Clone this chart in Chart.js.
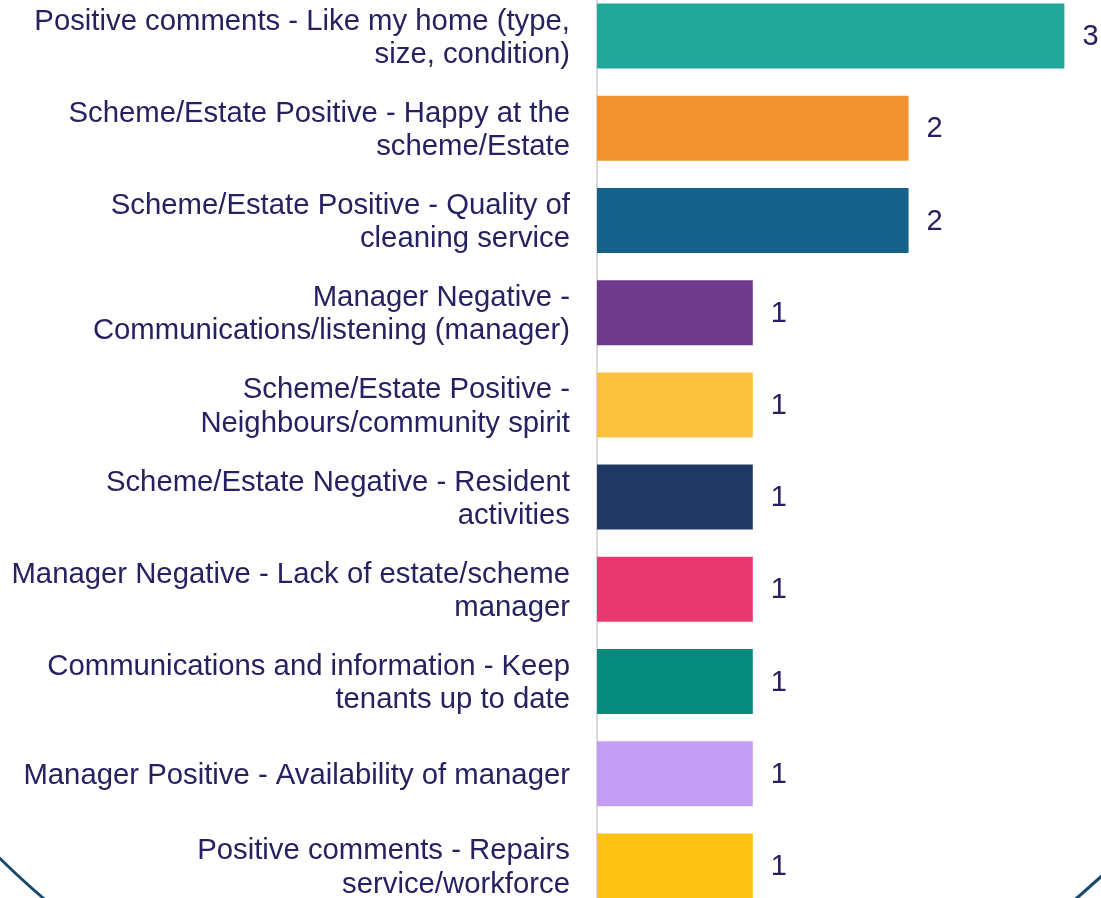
<!DOCTYPE html>
<html>
<head>
<meta charset="utf-8">
<script src="https://cdn.jsdelivr.net/npm/chart.js@4"></script>
<style>
  html, body { margin: 0; padding: 0; background: #fff; overflow: hidden; }
  body { width: 1101px; height: 898px; position: relative; }
  #wrap { position: absolute; left: 0; top: -10px; width: 1101px; height: 922px; }
</style>
</head>
<body>
<div id="wrap"><canvas id="myChart"></canvas></div>
<script>
// chart data
const CATEGORIES = [
  ["Positive comments - Like my home (type,", "size, condition)"],
  ["Scheme/Estate Positive - Happy at the", "scheme/Estate"],
  ["Scheme/Estate Positive - Quality of", "cleaning service"],
  ["Manager Negative -", "Communications/listening (manager)"],
  ["Scheme/Estate Positive -", "Neighbours/community spirit"],
  ["Scheme/Estate Negative - Resident", "activities"],
  ["Manager Negative - Lack of estate/scheme", "manager"],
  ["Communications and information - Keep", "tenants up to date"],
  ["Manager Positive - Availability of manager"],
  ["Positive comments - Repairs", "service/workforce"],
];
const COUNTS = [3, 2, 2, 1, 1, 1, 1, 1, 1, 1];
const BAR_COLORS = [
  "#22a89a", "#f2922e", "#15638b", "#6f3a8c", "#fdc140",
  "#203864", "#e83870", "#068b7c", "#c49ef4", "#fdc314",
];

// constants
const TEXT_COLOR = "#262161";
const FONT_FAMILY = "'Liberation Sans', Arial, sans-serif";

// value labels to the right of each bar
const valueLabels = {
  id: 'valueLabels',
  afterDatasetsDraw(chart) {
    const ctx = chart.ctx;
    const meta = chart.getDatasetMeta(0);
    ctx.save();
    ctx.fillStyle = TEXT_COLOR;
    ctx.font = "29px " + FONT_FAMILY;
    ctx.textAlign = 'left';
    ctx.textBaseline = 'middle';
    meta.data.forEach((bar, i) => {
      ctx.fillText(String(COUNTS[i]), bar.x + 18, bar.y + 1);
    });
    ctx.restore();
  }
};

// decorative ring behind the chart (only its bottom corners show)
const ring = {
  id: 'ring',
  beforeDraw(chart) {
    const ctx = chart.ctx;
    ctx.save();
    ctx.strokeStyle = "#17496e";
    ctx.lineWidth = 3;
    ctx.beginPath();
    ctx.arc(560, 300, 798, 0, Math.PI * 2);
    ctx.stroke();
    ctx.restore();
  }
};

var ctx = document.getElementById("myChart").getContext("2d");
var barChart = new Chart(ctx, {
  type: 'bar',
  data: {
    labels: CATEGORIES,
    datasets: [{
      label: "",
      data: COUNTS,
      backgroundColor: BAR_COLORS,
      barPercentage: 1,
      categoryPercentage: 0.705,
    }]
  },
  options: {
    indexAxis: 'y',
    responsive: true,
    maintainAspectRatio: false,
    animation: false,
    layout: { padding: 0 },
    scales: {
      x: {
        display: false,
        min: 0,
        max: 3.235,
      },
      y: {
        grid: { display: false },
        border: { display: true, color: "#d9d9d9", width: 2 },
        afterFit: (scale) => {
          scale.width = 597;
          // labels may overflow the top and bottom, as in the original
          scale.paddingTop = 0;
          scale.paddingBottom = 0;
        },
        ticks: {
          padding: 19,
          labelOffset: 2,
          color: TEXT_COLOR,
          font: { family: FONT_FAMILY, size: 29.3, lineHeight: 1.13 },
        },
      },
    },
    plugins: {
      legend: { display: false },
      tooltip: { enabled: false },
      title: { display: false },
    },
  },
  plugins: [ring, valueLabels],
});
</script>
</body>
</html>
